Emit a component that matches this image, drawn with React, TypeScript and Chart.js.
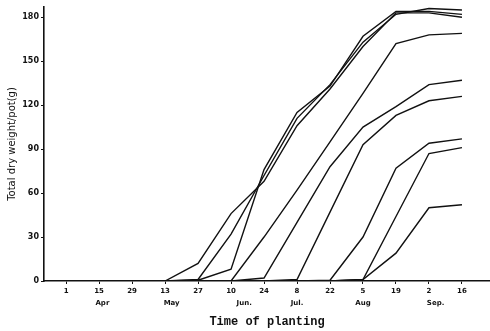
import React, { useEffect, useRef } from "react";
import { Chart, registerables } from "chart.js";

Chart.register(...registerables);

const dateLabels = ["1", "15", "29", "13", "27", "10", "24", "8", "22", "5", "19", "2", "16"];
const monthLabels = ["Apr", "May", "Jun.", "Jul.", "Aug", "Sep."];
const monthPositions = [1.1, 3.2, 5.4, 7.0, 9.0, 11.2];
const yTicks = [0, 30, 60, 90, 120, 150, 180];

type V = number | null;
const s1: V[] = [null, null, null, 0, 12, 46, 68, 106, 131, 160, 183, 183, 180];
const s2: V[] = [null, null, null, 0, 1, 32, 72, 111, 134, 163, 182, 186, 185];
const s3: V[] = [null, null, null, 0, 0.5, 8, 76, 115, 133, 167, 184, 184, 182];
const s4: V[] = [null, null, null, null, null, 0, 30, 62, 95, 128, 162, 168, 169];
const s5: V[] = [null, null, null, null, null, 0, 2, 40, 78, 105, 119, 134, 137];
const s6: V[] = [null, null, null, null, null, null, 0, 1, 47, 93, 113, 123, 126];
const s7: V[] = [null, null, null, null, null, null, null, 0, 0.5, 30, 77, 94, 97];
const s8: V[] = [null, null, null, null, null, null, null, null, 0, 1, 44, 87, 91];
const s9: V[] = [null, null, null, null, null, null, null, null, 0, 1, 19, 50, 52];
const allSeries = [s1, s2, s3, s4, s5, s6, s7, s8, s9];

export default function App() {
  const ref = useRef<HTMLCanvasElement | null>(null);
  useEffect(() => {
    document.body.style.margin = "0";
    const ctx = ref.current!;
    const datasets = allSeries.map((s) => ({
      data: s
        .map((v, i) => (v === null ? null : { x: i, y: v }))
        .filter((p) => p !== null) as { x: number; y: number }[],
      borderColor: "#111",
      borderWidth: 1.4,
      pointRadius: 0,
      fill: false,
      tension: 0,
    }));
    const chart = new Chart(ctx, {
      type: "line",
      data: { datasets },
      options: {
        animation: false,
        responsive: false,
        devicePixelRatio: 1,
        layout: { padding: { top: 7, right: 0, left: 0, bottom: 0 } },
        plugins: { legend: { display: false }, tooltip: { enabled: false } },
        scales: {
          x: {
            type: "linear",
            position: "bottom",
            weight: 0,
            min: -0.67,
            max: 12.85,
            afterBuildTicks: (axis: any) => {
              axis.ticks = dateLabels.map((_, i) => ({ value: i }));
            },
            afterFit: (s: any) => {
              s.height = 14;
            },
            ticks: {
              callback: (v: any) => dateLabels[v as number] ?? "",
              color: "#111",
              font: { family: "DejaVu Sans", size: 7, weight: "bold" },
              padding: 3,
              maxRotation: 0,
              autoSkip: false,
            },
            grid: { display: true, drawOnChartArea: false, tickLength: 3, color: "#111" },
            border: { display: true, color: "#111", width: 1.6 },
          },
          x2: {
            type: "linear",
            position: "bottom",
            weight: 1,
            min: -0.67,
            max: 12.85,
            afterBuildTicks: (axis: any) => {
              axis.ticks = monthPositions.map((p) => ({ value: p }));
            },
            afterFit: (s: any) => {
              s.height = 36;
            },
            ticks: {
              callback: (_v: any, i: number) => monthLabels[i] ?? "",
              color: "#111",
              font: { family: "DejaVu Sans", size: 7, weight: "bold" },
              padding: 4,
              maxRotation: 0,
              autoSkip: false,
            },
            grid: { display: false, drawTicks: false },
            border: { display: false },
            title: {
              display: true,
              text: "Time of planting",
              color: "#111",
              font: { family: "Liberation Mono", size: 12, weight: "bold" },
              padding: { top: 0, bottom: 2 },
            },
          },
          y: {
            type: "linear",
            min: 0,
            max: 187,
            afterBuildTicks: (axis: any) => {
              axis.ticks = yTicks.map((v) => ({ value: v }));
            },
            afterFit: (s: any) => {
              s.width = 44;
            },
            ticks: {
              color: "#111",
              font: { family: "DejaVu Sans", size: 8, weight: "bold" },
              padding: 2,
            },
            grid: { display: true, drawOnChartArea: false, tickLength: 3, color: "#111" },
            border: { display: true, color: "#111", width: 1.6 },
            title: {
              display: true,
              text: "Total dry weight/pot(g)",
              color: "#111",
              font: { family: "DejaVu Sans", size: 10 },
              padding: { top: 6, bottom: 0 },
            },
          },
        },
      },
    });
    return () => chart.destroy();
  }, []);
  return <canvas ref={ref} width={490} height={331} style={{ display: "block" }} />;
}
